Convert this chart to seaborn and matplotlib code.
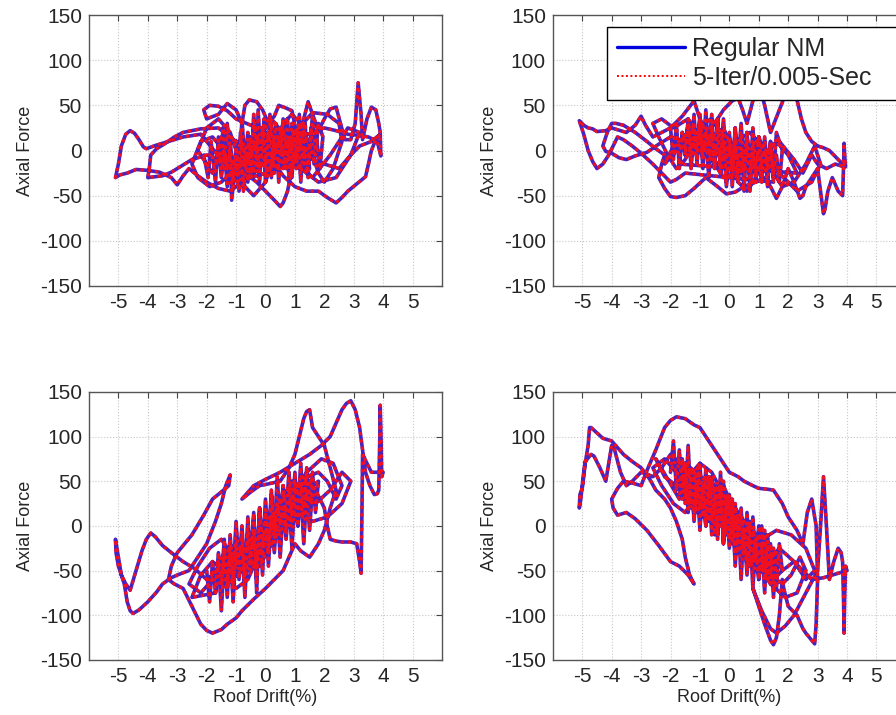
import matplotlib
matplotlib.use("Agg")
import matplotlib.pyplot as plt
import seaborn as sns
import pandas as pd

sns.set_style("white")
plt.rcParams['font.family'] = ['Liberation Sans', 'DejaVu Sans']
plt.rcParams['axes.unicode_minus'] = False

# ---- top-left panel: dense core scribble, mid loops, outer loops ----
drift_tl_core = [-2.1, -1.95, -1.85, -1.7, -1.6, -1.5, -1.45, -1.3, -1.2, -1.15, -1.0, -0.95, -0.85, -0.75, -0.6, -0.55, -0.4, -0.3, -0.25, -0.15,
                 -0.05, 0.05, 0.15, 0.25, 0.35, 0.45, 0.55, 0.65, 0.75, 0.85, 0.95, 1.05, 1.15, 1.25, 1.35, 1.45, 1.55, 1.65, 1.75, 1.85, 1.95,
                 1.8, 1.7, 1.6, 1.5, 1.4, 1.3, 1.2, 1.1, 1.0, 0.9, 0.8, 0.7, 0.6, 0.5, 0.4, 0.3, 0.2, 0.1, 0.0, -0.1, -0.2, -0.3, -0.4,
                 -0.5, -0.6, -0.7, -0.8, -0.9, -1.0, -1.1, -1.2, -1.3, -1.4, -1.5, -1.6, -1.7, -1.8]
force_tl_core = [-5, -30, 10, -35, 15, -20, 25, -40, 5, -55, -10, -35, 20, -45, 0, -30, 30, -20, 45, -10,
                 35, -25, 40, -5, 30, -35, 20, -15, 35, -25, 15, -20, 40, -10, 30, -30, 25, -15, 10, -20, 15,
                 30, -5, 40, 0, -25, 15, -35, 20, -10, 30, -30, 10, -20, 25, -10, 15, -30, 20, -15, 25, -35, 10, -25,
                 15, -35, 5, -20, -45, 0, -30, 10, -20, 0, -30, 5, -15, -25]
drift_tl_mid = [-2.3, -2.0, -1.6, -1.2, -0.9, -0.7, -0.4, 0.0, 0.3, 0.6, 0.9, 1.2, 1.5, 1.8, 2.0, 2.3, 2.6, 2.5, 2.1, 1.6,
                1.0, 0.5, 0.0, -0.5, -1.0, -1.5, -1.9, -2.3, -2.5, -2.2, -1.8, -1.3, -0.8, -0.3, 0.2, 0.7, 1.1, 1.6, 2.2, 2.8,
                3.2, 2.9, 2.4, 1.8, 1.2, 0.6, 0.1, -0.4]
force_tl_mid = [0, 25, 35, 20, -10, -40, -50, -35, -5, 30, 40, 30, 5, -25, -35, -20, 10, 30, 40, 42,
                20, -10, -25, -30, -20, -35, -40, -30, -15, 10, 15, -5, -25, 10, 35, 15, -15, -30, -5, 25,
                20, -5, -30, -35, -20, 0, 15, 5]
drift_tl_fine = [-1.5, -1.4, -1.3, -1.2, -1.1, -1.0, -0.9, -0.8, -0.7, -0.6, -0.5, -0.4, -0.3, -0.2, -0.1, 0.0,
                 0.1, 0.2, 0.3, 0.4, 0.5, 0.6, 0.7, 0.8, 0.9, 1.0, 1.1, 1.2, 1.3, 1.4, 1.5]
force_tl_fine = [15, -20, 30, -10, -40, 5, -25, 35, -15, 20, -30, 40, 0, -20, 25, -35,
                 10, 30, -25, 15, -5, 35, -20, 10, -30, 20, -10, 30, -15, 5, -20]
drift_tl_loops = [-1.5, -2.2, -2.8, -3.3, -3.7, -4.05, -4.15, -4.3, -4.45, -4.6, -4.75, -4.9, -5.0, -5.1, -4.95, -4.7, -4.4, -4.0, -3.6, -3.2,
                  -3.0, -2.8, -2.6, -2.3, -2.0, -1.6, -1.2, -0.8, -0.3, 0.2, 0.5,
                  0.0, -0.5, -1.0, -1.3, -1.6, -1.9, -2.1, -2.0, -1.6, -1.3, -1.0, -0.8, -0.7, -0.55, -0.3, -0.1, 0.1, 0.3, 0.45, 0.7,
                  0.9, 1.05, 1.2, 1.3, 1.45, 1.6, 1.8, 2.0, 2.2, 2.4, 2.55, 2.7, 2.9, 3.05, 3.15, 3.25, 3.3, 3.45, 3.6, 3.75,
                  3.85, 3.9, 3.92, 3.8, 3.5, 3.1, 2.8, 2.4, 2.0, 1.6, 1.2,
                  0.9, 0.75, 0.6, 0.5, 0.3, 0.0, -0.3, -0.5, -0.2, 0.2, 0.6, 1.0, 1.4, 1.8, 2.1, 2.4, 2.6, 2.8, 3.1, 3.4,
                  3.5, 3.6, 3.75, 3.9, 3.6, 3.2, 2.9, 2.5, 2.0, 1.6, 1.2, 0.8,
                  -0.3, -0.8, -1.2, -1.6, -2.2, -2.8, -3.1, -3.4, -3.7, -3.9, -3.95, -4.0, -3.75, -3.5, -3.2, -2.9, -2.5, -2.0, -1.5, -1.0,
                  -0.6, -0.2]
force_tl_loops = [-10, 18, 15, 10, 6, 2, 4, 12, 19, 22, 18, 5, -15, -30, -27, -25, -21, -22, -24, -30,
                  -38, -28, -20, -28, -35, -42, -45, -35, -20, -5, 5,
                  20, 28, 35, 44, 49, 50, 45, 35, 40, 52, 45, 30, 50, 56, 54, 45, 30, 38, 50, 47,
                  44, 20, 5, 35, 54, 40, 22, 35, 46, 48, 30, 12, 12, 30, 75, 40, 12, 35, 48, 45,
                  30, 20, -6, 10, 15, 17, 18, 22, 25, 20, 15,
                  -20, -45, -58, -62, -55, -45, -35, -30, -18, -10, -28, -40, -45, -45, -52, -58, -52, -45, -37, -29,
                  -15, 0, 12, 18, 10, 5, -5, -20, -15, -10, 0, 10,
                  8, 5, 15, 25, 24, 20, 15, 8, 2, -5, -20, -30, -29, -28, -24, -18, -10, -5, -12, -15,
                  -5, 5]

# ---- top-right panel ----
drift_tr_core = [-2.0, -1.9, -1.8, -1.7, -1.6, -1.5, -1.4, -1.3, -1.2, -1.1, -1.0, -0.9, -0.8, -0.7, -0.6, -0.5, -0.4, -0.3, -0.2, -0.1,
                 0.0, 0.1, 0.2, 0.3, 0.4, 0.5, 0.6, 0.7, 0.8, 0.9, 1.0, 1.1, 1.2, 1.3, 1.4, 1.5, 1.6, 1.7, 1.8,
                 1.6, 1.5, 1.4, 1.3, 1.2, 1.1, 1.0, 0.9, 0.8, 0.7, 0.6, 0.5, 0.4, 0.3, 0.2, 0.1, 0.0, -0.1, -0.2, -0.3,
                 -0.4, -0.5, -0.6, -0.7, -0.8, -0.9, -1.0, -1.1, -1.2, -1.3, -1.4, -1.5, -1.6, -1.7]
force_tr_core = [25, -10, 30, -20, 20, -5, 35, 0, 40, -15, 30, -10, 45, -5, 25, -20, 35, -25, 20, -35,
                 15, -40, 25, -30, 10, -45, 20, -25, 5, -35, 15, -30, 0, -40, 10, -25, -5, -35, 0,
                 20, -30, 5, -20, 15, -35, 0, -15, 25, -30, 10, -20, 30, -15, 5, -25, 20, -10, 35, -5,
                 15, -15, 40, 0, 20, -20, 35, 5, 25, -10, 30, 0, 20, -15]
drift_tr_mid = [2.3, 2.0, 1.6, 1.2, 0.9, 0.6, 0.3, 0.0, -0.3, -0.6, -0.9, -1.2, -1.5, -1.8, -2.1, -2.4, -2.6, -2.3, -1.9, -1.4,
                -1.0, -0.6, -0.2, 0.2, 0.6, 1.0, 1.4, 1.8, 2.2, 2.6, 2.9, 3.1, 2.8, 2.3, 1.7, 1.2, 0.7, 0.2, -0.3, -0.8,
                -1.3, -1.8, -2.2, -1.9, -1.4, -0.9, -0.4, 0.1]
force_tr_mid = [-25, -5, 10, -5, -30, -45, -35, -10, 20, 35, 30, 10, -10, -20, -5, 15, 30, 35, 25, 35,
                15, -10, -30, -25, -10, 15, -20, -40, -35, -15, 5, -15, -35, -45, -25, 0, 20, 10, -5, 15,
                25, 0, -15, 5, 20, 5, -15, 5]
drift_tr_fine = [-1.5, -1.4, -1.3, -1.2, -1.1, -1.0, -0.9, -0.8, -0.7, -0.6, -0.5, -0.4, -0.3, -0.2, -0.1, 0.0,
                 0.1, 0.2, 0.3, 0.4, 0.5, 0.6, 0.7, 0.8, 0.9, 1.0, 1.1, 1.2, 1.3, 1.4, 1.5]
force_tr_fine = [-5, 30, -20, 25, -10, 40, 0, 20, -30, 15, -15, 35, -25, 10, -40, 5,
                 -20, 25, -35, 0, -15, 20, -45, -5, -25, 15, -30, 0, -20, 10, -35]
drift_tr_loops = [-1.5, -1.8, -2.0, -2.3, -2.6, -3.0, -3.3, -3.6, -3.8, -3.95, -4.1, -4.3, -4.5, -4.65, -4.8, -4.95, -5.05, -5.1, -4.95, -4.8,
                  -4.65, -4.5, -4.2, -4.0, -3.7, -3.5, -3.2, -3.0, -2.85, -2.6, -2.3, -2.0, -1.6, -1.2, -1.0, -0.8,
                  -0.5, -0.2, 0.1, 0.3, 0.45, 0.6, 0.8, 1.0, 1.2, 1.4, 1.7, 2.0, 2.2, 2.3, 2.45, 2.6, 2.8, 3.0, 3.2, 3.4,
                  3.55, 3.7, 3.85, 3.95, 3.92, 3.9, 3.88, 3.85, 3.7, 3.5, 3.35, 3.25, 3.2, 3.1, 3.0, 2.8, 2.6, 2.5, 2.4, 2.2,
                  2.0, 1.8, 1.6, 1.4, 1.2, 0.9, 0.5, 0.2, -0.1, -0.4, -0.8, -1.2, -1.5, -1.8, -2.0, -2.2, -2.4, -2.3, -2.2,
                  -2.5, -2.8, -3.2, -3.6, -3.85, -4.0, -4.15, -4.3, -4.2, -4.0, -3.75, -3.5, -3.2, -2.8, -2.4, -2.0, -1.5, -1.0,
                  -0.2, 0.4, 1.3, 1.7, 2.2, 2.5, 2.8, 3.0, 3.3, 3.6, 3.9]
force_tr_loops = [-25, -32, -35, -25, -15, -3, 5, 12, 15, 5, -5, -15, -20, -12, 0, 18, 28, 33, 28, 25,
                  24, 21, 22, 25, 22, 20, 28, 38, 28, 15, 20, 25, 38, 55, 35, 20,
                  30, 45, 55, 58, 45, 30, 55, 75, 50, 20, 45, 70, 62, 56, 35, 20, 10, 5, 3, 0,
                  -5, -10, -15, -18, -5, 8, -20, -50, -45, -30, -45, -65, -70, -45, -20, -30, -40, -50, -53, -35,
                  -20, -40, -53, -40, -30, -35, -40, -46, -48, -40, -30, -42, -50, -52, -51, -42, -30, -15, -5,
                  2, 10, 20, 28, 30, 30, 20, 5, -1, -3, -8, -10, -6, -2, 7, 15, 10, 5,
                  25, -25, 0, 10, -10, -25, -5, -15, -20, -15, -18]

# ---- bottom-left panel ----
drift_bl_core = [-2.0, -1.9, -1.8, -1.7, -1.6, -1.5, -1.4, -1.3, -1.2, -1.1, -1.0, -0.9, -0.8, -0.7, -0.6, -0.5, -0.4, -0.3, -0.2, -0.1,
                 0.0, 0.1, 0.2, 0.3, 0.4, 0.5, 0.6, 0.7, 0.8, 0.9, 1.0, 1.1, 1.2, 1.3, 1.4, 1.5, 1.6, 1.7, 1.8,
                 1.6, 1.5, 1.4, 1.3, 1.2, 1.1, 1.0, 0.9, 0.8, 0.7, 0.6, 0.5, 0.4, 0.3, 0.2, 0.1, 0.0, -0.1, -0.2, -0.3,
                 -0.4, -0.5, -0.6, -0.7, -0.8, -0.9, -1.0, -1.1, -1.2, -1.3, -1.4, -1.5, -1.6, -1.7]
force_bl_core = [-50, -85, -40, -75, -30, -60, -15, -80, -20, -55, 5, -45, -10, -70, 10, -40, 15, -75, 20, -30,
                 30, -20, 40, -10, 55, 0, 45, 15, 60, 5, 50, 20, 70, 10, 55, 25, 60, 15, 50,
                 45, -5, 35, -20, 40, 0, 30, -25, 25, -15, 20, -35, 15, -30, 10, -45, 15, -55, 0, -60,
                 -5, -50, -15, -80, -20, -60, -25, -85, -30, -70, -35, -95, -40, -75]
drift_bl_mid = [-2.5, -2.2, -1.8, -1.4, -1.0, -0.6, -0.2, 0.2, 0.6, 1.0, 1.4, 1.8, 2.1, 2.4, 2.6, 2.3, 1.9, 1.4, 1.0, 0.6,
                0.2, -0.2, -0.6, -1.0, -1.4, -1.8, -2.2, -2.6, -2.3, -1.9, -1.5, -1.1, -0.7, -0.3, 0.1, 0.5, 0.9, 1.3, 1.7, 2.2,
                2.6, 2.9, 2.6, 2.1, 1.6, 1.1, 0.6, 0.1]
force_bl_mid = [-80, -55, -40, -50, -70, -60, -30, 0, 20, 35, 55, 60, 50, 30, 45, 70, 75, 60, 40, 10,
                -20, -45, -40, -20, -30, -60, -75, -65, -45, -25, -15, -35, -55, -35, -10, 25, 50, 40, 25, 40,
                60, 50, 25, 10, 5, 15, 0, -25]
drift_bl_fine = [-1.5, -1.4, -1.3, -1.2, -1.1, -1.0, -0.9, -0.8, -0.7, -0.6, -0.5, -0.4, -0.3, -0.2, -0.1, 0.0,
                 0.1, 0.2, 0.3, 0.4, 0.5, 0.6, 0.7, 0.8, 0.9, 1.0, 1.1, 1.2, 1.3, 1.4, 1.5]
force_bl_fine = [-70, -25, -60, -10, -65, -20, -45, 0, -55, -5, -35, 10, -40, 20, -25, 15,
                 -30, 35, -10, 25, 5, 45, -5, 40, 15, 60, 0, 50, 20, 65, 30]
drift_bl_loops = [-2.0, -2.4, -2.8, -3.2, -3.5, -3.75, -3.9, -4.05, -4.2, -4.4, -4.6, -4.75, -4.9, -5.0, -5.1, -5.08, -5.0, -4.9, -4.8, -4.7,
                  -4.6, -4.5, -4.3, -4.0, -3.7, -3.5, -3.2, -3.0, -2.6, -2.3, -2.0, -1.7, -1.5, -1.35, -1.2, -1.25, -1.5, -1.8, -2.1, -2.5,
                  -2.8, -3.0, -3.2, -3.3, -3.1, -2.8, -2.5, -2.2, -2.0, -1.8, -1.5, -1.3, -1.0, -0.8, -0.4, 0.0, 0.3, 0.6, 0.8, 1.0,
                  1.2, 1.5, 1.8, 2.0,
                  2.2, 2.4, 2.2, 2.0, 1.8, 1.6, 1.5, 1.4, 1.3, 1.15, 1.0, 0.8, 0.5, 0.1, -0.2, -0.5, -0.8, -0.4, 0.0, 0.5,
                  1.0, 1.5, 1.9, 2.2, 2.4, 2.6, 2.75, 2.9, 3.05, 3.2, 3.3, 3.4, 3.55, 3.7, 3.8, 3.85, 3.88, 3.9, 3.93, 3.95,
                  4.0, 3.8, 3.6, 3.45, 3.3, 3.28, 3.25, 3.2, 3.1, 2.9, 2.6, 2.4, 2.2, 2.1, 2.0, 1.7, 1.5, 1.1, 0.8]
force_bl_loops = [-60, -48, -40, -30, -22, -12, -8, -15, -28, -50, -72, -65, -55, -35, -15, -30, -45, -55, -65, -85,
                  -95, -98, -94, -85, -74, -65, -58, -55, -50, -35, -20, 5, 25, 45, 57, 45, 38, 30, 12, -10,
                  -22, -30, -45, -60, -65, -70, -90, -110, -117, -120, -116, -110, -103, -95, -82, -70, -60, -50, -35, -20,
                  -28, -35, -20, -5,
                  20, 40, 65, 90, 100, 110, 130, 128, 120, 100, 80, 65, 50, 47, 45, 38, 30, 45, 52, 60,
                  70, 80, 90, 100, 115, 130, 137, 140, 130, 110, 85, 60, 45, 35, 36, 40, 90, 135, 95, 55,
                  60, 60, 60, 70, 80, 20, -53, -40, -20, -18, -18, -17, -15, 0, 20, 40, 50, 45, 40]

# ---- bottom-right panel ----
drift_br_core = [-2.0, -1.9, -1.8, -1.7, -1.6, -1.5, -1.4, -1.3, -1.2, -1.1, -1.0, -0.9, -0.8, -0.7, -0.6, -0.5, -0.4, -0.3, -0.2, -0.1,
                 0.0, 0.1, 0.2, 0.3, 0.4, 0.5, 0.6, 0.7, 0.8, 0.9, 1.0, 1.1, 1.2, 1.3, 1.4, 1.5, 1.6, 1.7, 1.8,
                 1.6, 1.5, 1.4, 1.3, 1.2, 1.1, 1.0, 0.9, 0.8, 0.7, 0.6, 0.5, 0.4, 0.3, 0.2, 0.1, 0.0, -0.1, -0.2, -0.3,
                 -0.4, -0.5, -0.6, -0.7, -0.8, -0.9, -1.0, -1.1, -1.2, -1.3, -1.4, -1.5, -1.6, -1.7]
force_br_core = [60, 95, 40, 85, 30, 70, 15, 60, 5, 50, -5, 45, 0, 55, -10, 40, -15, 60, -20, 30,
                 -25, 20, -45, 10, -60, 0, -55, -5, -70, -15, -60, -20, -75, -10, -55, -25, -70, -20, -50,
                 -30, -80, -20, -60, -5, -50, 0, -40, 10, -45, 15, -35, 20, -30, 25, -20, 35, -10, 50, 0,
                 45, -10, 55, 5, 65, 10, 70, 15, 60, 20, 90, 25, 75, 30]
drift_br_mid = [-2.5, -2.2, -1.8, -1.4, -1.0, -0.6, -0.2, 0.2, 0.6, 1.0, 1.4, 1.8, 2.1, 2.4, 2.6, 2.3, 1.9, 1.4, 1.0, 0.6,
                0.2, -0.2, -0.6, -1.0, -1.4, -1.8, -2.2, -2.6, -2.3, -1.9, -1.5, -1.1, -0.7, -0.3, 0.1, 0.5, 0.9, 1.3, 1.7, 2.2,
                2.6, 2.9, 2.6, 2.1, 1.6, 1.1, 0.6, 0.1]
force_br_mid = [75, 55, 45, 55, 70, 60, 35, 5, -20, -35, -55, -65, -55, -35, -50, -75, -80, -65, -45, -15,
                15, 45, 40, 20, 30, 60, 75, 65, 45, 25, 15, 35, 55, 35, 10, -25, -50, -40, -25, -40,
                -60, -50, -25, -10, -5, -15, 0, 25]
drift_br_fine = [-1.5, -1.4, -1.3, -1.2, -1.1, -1.0, -0.9, -0.8, -0.7, -0.6, -0.5, -0.4, -0.3, -0.2, -0.1, 0.0,
                 0.1, 0.2, 0.3, 0.4, 0.5, 0.6, 0.7, 0.8, 0.9, 1.0, 1.1, 1.2, 1.3, 1.4, 1.5]
force_br_fine = [70, 25, 60, 10, 65, 20, 45, 0, 55, 5, 35, -10, 40, -20, 25, -15,
                 30, -35, 10, -25, -5, -45, 5, -40, -15, -60, 0, -50, -20, -65, -30]
drift_br_loops = [-2.0, -2.3, -2.6, -2.8, -3.0, -3.3, -3.5, -3.7, -3.9, -4.0, -4.1, -4.2, -4.4, -4.6, -4.7, -4.8, -4.9, -4.95, -5.0, -5.05,
                  -5.1, -5.08, -5.0, -4.95, -4.9, -4.8, -4.75, -4.7, -4.3, -4.0, -3.6, -3.3, -3.0, -2.7, -2.5, -2.2, -2.0, -1.8, -1.6, -1.5,
                  -1.35, -1.2, -1.4, -1.7, -2.0, -2.4, -2.8, -3.2, -3.5, -3.8, -3.95, -4.0, -3.8, -3.6, -3.3, -3.0, -2.8, -2.5, -2.2, -2.0,
                  -1.8, -1.5, -1.2, -1.0, -0.7, -0.5, -0.2, 0.0, 0.3, 0.5, 0.8, 1.0, 1.3, 1.5, 1.8, 2.0, 2.3, 2.5,
                  2.65, 2.8, 2.95, 3.0, 2.95, 2.9, 2.8, 2.6, 2.5, 2.3, 2.0, 1.85, 1.8, 1.7, 1.6, 1.5, 1.4, 1.2, 1.0, 0.8,
                  1.1, 1.4, 1.6, 1.9, 2.2, 2.6, 3.0, 3.1, 3.2, 3.3, 3.4, 3.55, 3.7, 3.8, 3.85, 3.88, 3.9, 3.92, 3.95, 4.0,
                  3.8, 3.5, 3.2, 2.8, 2.5, 2.2, 1.8, 1.5, 1.2, 1.0]
force_br_loops = [80, 65, 55, 58, 60, 50, 45, 60, 85, 90, 70, 50, 65, 78, 80, 76, 72, 60, 45, 30,
                  20, 35, 42, 55, 70, 90, 110, 110, 98, 95, 80, 72, 65, 52, 40, 30, 20, 5, -15, -35,
                  -55, -65, -55, -45, -40, -22, -5, 8, 15, 12, 20, 30, 42, 50, 48, 45, 62, 85, 110, 118,
                  122, 120, 113, 110, 95, 85, 70, 60, 55, 50, 45, 42, 41, 40, 25, 10, -5, -20,
                  15, 30, 0, -60, -110, -132, -128, -120, -115, -100, -90, -70, -60, -100, -125, -133, -128, -110, -90, -70,
                  -95, -115, -120, -112, -100, -75, -50, 0, 55, 0, -60, -40, -25, -30, -40, -80, -120, -80, -45, -50,
                  -52, -55, -58, -60, -50, -40, -50, -60, -40, -20]

panels = [(drift_tl_core + drift_tl_mid + drift_tl_fine + drift_tl_loops, force_tl_core + force_tl_mid + force_tl_fine + force_tl_loops),
          (drift_tr_core + drift_tr_mid + drift_tr_fine + drift_tr_loops, force_tr_core + force_tr_mid + force_tr_fine + force_tr_loops),
          (drift_bl_core + drift_bl_mid + drift_bl_fine + drift_bl_loops, force_bl_core + force_bl_mid + force_bl_fine + force_bl_loops),
          (drift_br_core + drift_br_mid + drift_br_fine + drift_br_loops, force_br_core + force_br_mid + force_br_fine + force_br_loops)]
x_ticks = [-5, -4, -3, -2, -1, 0, 1, 2, 3, 4, 5]
y_ticks = [-150, -100, -50, 0, 50, 100, 150]

fig = plt.figure(figsize=(8.96, 7.15), dpi=100)
positions = [[0.0993, 0.600, 0.394, 0.379], [0.617, 0.600, 0.394, 0.379],
             [0.0993, 0.077, 0.394, 0.375], [0.617, 0.077, 0.394, 0.375]]

for i, (dr, fo) in enumerate(panels):
    ax = fig.add_axes(positions[i])
    df = pd.DataFrame({"drift": dr, "force": fo})
    sns.lineplot(data=df, x="drift", y="force", sort=False, estimator=None, color="#4a22c0",
                 lw=2.6, label="Regular NM", legend=False, ax=ax)
    sns.lineplot(data=df, x="drift", y="force", sort=False, estimator=None, color="#f01020",
                 lw=2.3, linestyle=(0, (1, 1.3)), label="5-Iter/0.005-Sec", legend=False, ax=ax)
    ax.set_xlim(-6, 6)
    ax.set_ylim(-150, 150)
    ax.set_xticks(x_ticks)
    ax.set_yticks(y_ticks)
    ax.grid(True, color="#c8c8c8", linestyle=":", linewidth=0.8)
    ax.tick_params(direction="in", top=True, right=True, labelsize=15, length=4, color="#444444", pad=5)
    for s in ax.spines.values():
        s.set_color("#555555")
        s.set_linewidth(1.0)
    ax.set_ylabel("Axial Force", fontsize=13)
    if i >= 2:
        ax.set_xlabel("Roof Drift(%)", fontsize=13, labelpad=2)
    else:
        ax.set_xlabel("")
    if i == 1:
        # legend box runs past the right edge of the figure, as in the source image
        leg = ax.legend(loc="upper left", bbox_to_anchor=(607 / 896, 1 - 98 / 715, 300 / 896, 71 / 715),
                        bbox_transform=fig.transFigure, mode="expand",
                        fontsize=18, frameon=True, fancybox=False, edgecolor="black", framealpha=1,
                        borderaxespad=0, handlelength=2.7, labelspacing=0.2, borderpad=0.4, handletextpad=0.3)
        leg.get_lines()[0].set_color("#0000dd")
        leg.get_lines()[0].set_linewidth(2.4)
        leg.get_lines()[1].set_linewidth(1.4)
        leg.get_lines()[1].set_color("red")
        leg.set_zorder(10)

fig.savefig("out.png", dpi=100)
